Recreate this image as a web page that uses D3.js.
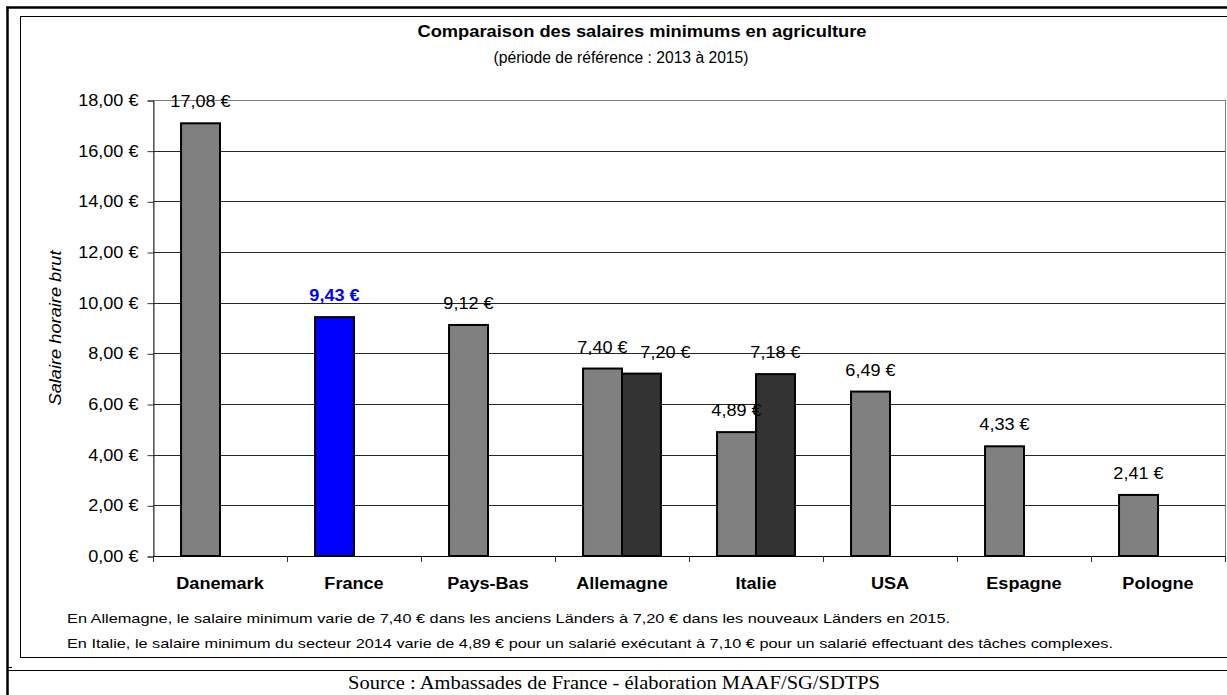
<!DOCTYPE html>
<html>
<head>
<meta charset="utf-8">
<script src="https://cdn.jsdelivr.net/npm/d3@7"></script>
<style>
  body { margin: 0; background: #fff; }
  text { font-family: "Liberation Sans", Arial, sans-serif; }
</style>
</head>
<body>
<div id="chart"></div>
<script>
// chart values
var countries = ["Danemark", "France", "Pays-Bas", "Allemagne", "Italie", "USA", "Espagne", "Pologne"];
var serie1 = [17.08, 9.43, 9.12, 7.40, 4.89, 6.49, 4.33, 2.41];
var serie2 = [null, null, null, 7.20, 7.18, null, null, null];
var yTicks = [0, 2, 4, 6, 8, 10, 12, 14, 16, 18];
var highlight = "France";

var title = "Comparaison des salaires minimums en agriculture";
var subtitle = "(période de référence : 2013 à 2015)";
var yTitle = "Salaire horaire brut";
var notes = [
    "En Allemagne, le salaire minimum varie de 7,40 € dans les anciens Länders à 7,20 € dans les nouveaux Länders en 2015.",
    "En Italie, le salaire minimum du secteur 2014 varie de 4,89 € pour un salarié exécutant à 7,10 € pour un salarié effectuant des tâches complexes."
];
var source = "Source : Ambassades de France - élaboration MAAF/SG/SDTPS";

//Width and height
var w = 1227;
var h = 695;
var FONT = 16;
var STRETCH = 1.13;   // the original text is drawn a bit wider than Arial

var fmt = function (v) { return v.toFixed(2).replace(".", ",") + " €"; };

var svg = d3.select("#chart")
    .append("svg")
    .attr("width", w)
    .attr("height", h);

// widen a text node along its own direction
function stretch(sel, k, len) {
    sel.each(function () {
        var n = this.getComputedTextLength();
        d3.select(this)
            .attr("textLength", len || n * k)
            .attr("lengthAdjust", "spacingAndGlyphs");
    });
}

//frames
svg.append("line").attr("x1", 7.5).attr("x2", 7.5).attr("y1", 6.5).attr("y2", h)
    .attr("stroke", "#000").attr("stroke-width", 2.5);
svg.append("line").attr("x1", 6.5).attr("x2", w).attr("y1", 7.5).attr("y2", 7.5)
    .attr("stroke", "#000").attr("stroke-width", 2.5);
svg.append("rect").attr("x", 20.5).attr("y", 16.5).attr("width", w).attr("height", 641)
    .attr("fill", "none").attr("stroke", "#000").attr("stroke-width", 1);
svg.append("line").attr("x1", 8).attr("x2", w).attr("y1", 670.5).attr("y2", 670.5)
    .attr("stroke", "#000").attr("stroke-width", 1.2);
svg.append("line").attr("x1", 8).attr("x2", 12).attr("y1", 667.5).attr("y2", 667.5)
    .attr("stroke", "#000").attr("stroke-width", 1);

//scales
var x = d3.scaleBand().domain(countries).range([153, 1225]);
var x1 = d3.scaleBand().domain([0, 1]).range([0, x.bandwidth()]).paddingOuter(0.72);
var y = d3.scaleLinear().domain([0, 18]).range([556, 100]);

// plot area border + gridlines
svg.append("rect")
    .attr("x", 153.5).attr("y", y(18) + 0.5)
    .attr("width", 1225 - 153).attr("height", y(0) - y(18))
    .attr("fill", "none").attr("stroke", "#808080");

svg.append("g")
    .selectAll("line")
    .data(yTicks.filter(function (t) { return t > 0 && t < 18; }))
    .join("line")
    .attr("x1", 153).attr("x2", 1225)
    .attr("y1", function (d) { return Math.round(y(d)) + 0.5; })
    .attr("y2", function (d) { return Math.round(y(d)) + 0.5; })
    .attr("stroke", "#262626");

// y axis
var yAxis = svg.append("g")
    .attr("transform", "translate(153.5,0.5)")
    .call(d3.axisLeft(y).tickValues(yTicks).tickSize(6).tickPadding(9)
        .tickFormat(fmt));
yAxis.select(".domain").attr("stroke", "#333");
yAxis.selectAll(".tick line").attr("stroke", "#333");
yAxis.selectAll("text")
    .attr("font-size", FONT)
    .attr("font-family", "Liberation Sans, Arial, sans-serif")
    .attr("fill", "#000")
    .call(stretch, STRETCH);

// x axis: ticks between categories
var bounds = countries.map(function (c) { return x(c); }).concat([1225]);
svg.append("line")
    .attr("x1", 153).attr("x2", 1225).attr("y1", 556.5).attr("y2", 556.5)
    .attr("stroke", "#000");
svg.append("g").selectAll("line")
    .data(bounds)
    .join("line")
    .attr("x1", function (d) { return Math.round(d) + 0.5; })
    .attr("x2", function (d) { return Math.round(d) + 0.5; })
    .attr("y1", 556).attr("y2", 562)
    .attr("stroke", "#333");

svg.append("g").selectAll("text")
    .data(countries)
    .join("text")
    .attr("x", function (d) { return x(d) + x.bandwidth() / 2; })
    .attr("y", 589)
    .attr("text-anchor", "middle")
    .attr("font-size", FONT)
    .attr("font-weight", "bold")
    .text(function (d) { return d; })
    .call(stretch, STRETCH);

// bars
var bars = [];
countries.forEach(function (c, i) {
    if (serie1[i] != null) bars.push({ c: c, s: 0, v: serie1[i], other: serie2[i] });
    if (serie2[i] != null) bars.push({ c: c, s: 1, v: serie2[i], other: serie1[i] });
});

function barColor(d) {
    if (d.c === highlight) return "#0000ff";
    return d.s === 0 ? "#808080" : "#333333";
}

svg.append("g").selectAll("rect")
    .data(bars)
    .join("rect")
    .attr("x", function (d) { return x(d.c) + x1(d.s); })
    .attr("y", function (d) { return y(d.v); })
    .attr("width", x1.bandwidth())
    .attr("height", function (d) { return y(0) - y(d.v); })
    .attr("fill", barColor)
    .attr("stroke", "#000")
    .attr("stroke-width", 2);

// value labels (second label nudged right when it would overlap its neighbour)
svg.append("g").selectAll("text")
    .data(bars)
    .join("text")
    .attr("x", function (d) {
        var cx = x(d.c) + x1(d.s) + x1.bandwidth() / 2;
        if (d.s === 1 && d.other != null && Math.abs(d.other - d.v) < 1) cx += 24;
        return cx;
    })
    .attr("y", function (d) { return y(d.v) - 16; })
    .attr("text-anchor", "middle")
    .attr("font-size", FONT)
    .attr("font-weight", function (d) { return d.c === highlight ? "bold" : "normal"; })
    .attr("fill", function (d) { return d.c === highlight ? "#0000ff" : "#000"; })
    .text(function (d) { return fmt(d.v); })
    .call(stretch, STRETCH);

// y title
svg.append("text")
    .attr("transform", "translate(61,328) rotate(-90)")
    .attr("text-anchor", "middle")
    .attr("font-size", FONT)
    .attr("font-style", "italic")
    .text(yTitle)
    .call(stretch, 1, 155);

// titles
svg.append("text")
    .attr("x", 642).attr("y", 37)
    .attr("text-anchor", "middle")
    .attr("font-size", 16)
    .attr("font-weight", "bold")
    .text(title)
    .call(stretch, 1, 449);

svg.append("text")
    .attr("x", 621).attr("y", 63)
    .attr("text-anchor", "middle")
    .attr("font-size", 16)
    .text(subtitle)
    .call(stretch, 1, 255);

// footnotes
var noteWidths = [883, 1046];
svg.append("g").selectAll("text")
    .data(notes)
    .join("text")
    .attr("x", 67)
    .attr("y", function (d, i) { return 623 + i * 25; })
    .attr("font-size", 13.5)
    .text(function (d) { return d; })
    .each(function (d, i) { d3.select(this).call(stretch, 1, noteWidths[i]); });

// source
svg.append("text")
    .attr("x", 614).attr("y", 689)
    .attr("text-anchor", "middle")
    .attr("font-size", 18)
    .style("font-family", "'Liberation Serif', 'Times New Roman', serif")
    .text(source)
    .call(stretch, 1, 532);
</script>
</body>
</html>
